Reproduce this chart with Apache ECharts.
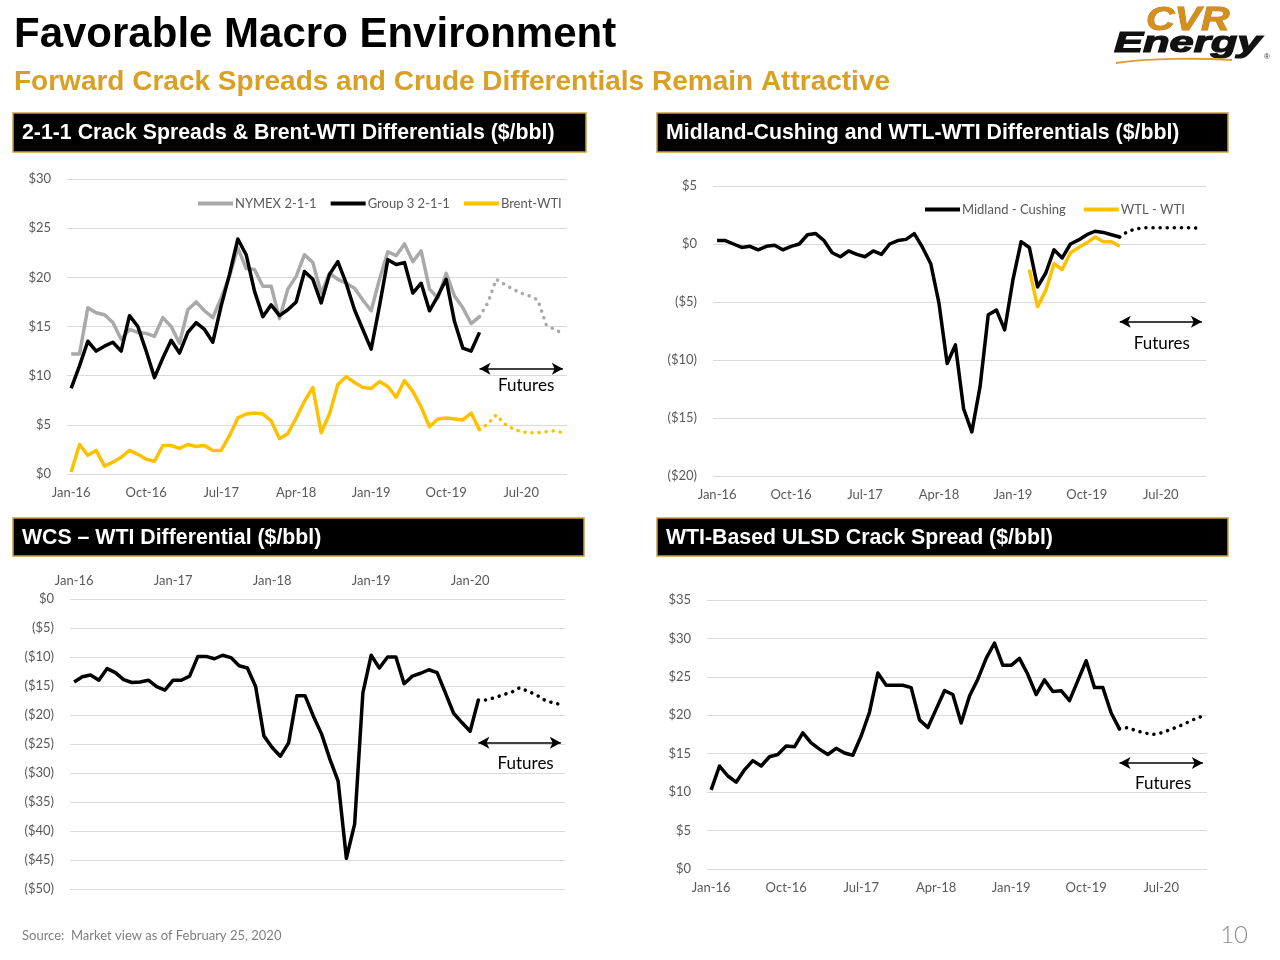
<!DOCTYPE html>
<html>
<head>
<meta charset="utf-8">
<script src="https://cdn.jsdelivr.net/npm/echarts/dist/echarts.min.js"></script>
<style>
html,body{margin:0;padding:0;background:#fff;}
#c{width:1280px;height:960px;}
</style>
</head>
<body>
<div id="c"></div>
<script>
// ---------- categories ----------
const months = [
'Jan-16','Feb-16','Mar-16','Apr-16','May-16','Jun-16','Jul-16','Aug-16','Sep-16','Oct-16','Nov-16','Dec-16',
'Jan-17','Feb-17','Mar-17','Apr-17','May-17','Jun-17','Jul-17','Aug-17','Sep-17','Oct-17','Nov-17','Dec-17',
'Jan-18','Feb-18','Mar-18','Apr-18','May-18','Jun-18','Jul-18','Aug-18','Sep-18','Oct-18','Nov-18','Dec-18',
'Jan-19','Feb-19','Mar-19','Apr-19','May-19','Jun-19','Jul-19','Aug-19','Sep-19','Oct-19','Nov-19','Dec-19',
'Jan-20','Feb-20','Mar-20','Apr-20','May-20','Jun-20','Jul-20','Aug-20','Sep-20','Oct-20','Nov-20','Dec-20'];

// ---------- chart 1: 2-1-1 crack spreads & Brent-WTI (Jan-16 .. Feb-20 actual, Feb-20 .. Dec-20 futures) ----------
const nymexHist = [12.2,12.2,16.9,16.4,16.2,15.4,13.7,14.7,14.4,14.3,14.0,15.9,15.0,13.3,16.7,17.5,16.6,15.9,17.9,20.1,
  23.0,20.9,20.8,19.1,19.1,15.8,18.8,20.1,22.3,21.5,18.4,20.4,19.8,19.4,18.9,17.7,16.6,19.8,22.6,22.2,
  23.4,21.6,22.7,18.8,17.9,20.4,18.1,16.9,15.3,16.0];
const nymexFut = [16.0,17.4,19.8,19.3,18.8,18.4,18.1,17.7,15.2,14.7,14.3];
const group3Hist = [8.7,11.0,13.5,12.5,13.0,13.4,12.5,16.1,15.0,12.5,9.8,11.8,13.6,12.3,14.4,15.4,14.7,13.4,17.1,20.3,
  23.9,22.3,18.6,16.0,17.2,16.1,16.7,17.5,20.6,19.8,17.4,20.3,21.6,19.4,16.7,14.7,12.7,17.1,21.8,21.3,
  21.5,18.4,19.4,16.6,18.1,19.8,15.5,12.8,12.5,14.4];
const brentHist = [0.2,3.0,1.9,2.4,0.8,1.2,1.7,2.4,2.0,1.5,1.3,2.9,2.9,2.6,3.0,2.8,2.9,2.4,2.4,3.9,
  5.7,6.1,6.2,6.1,5.4,3.6,4.1,5.7,7.4,8.8,4.2,6.1,9.1,9.9,9.3,8.8,8.7,9.4,8.9,7.8,
  9.5,8.4,6.8,4.8,5.6,5.7,5.6,5.5,6.2,4.5];
const brentFut = [4.5,5.1,6.0,5.1,4.6,4.3,4.2,4.2,4.3,4.4,4.2];

// ---------- chart 2: Midland-Cushing and WTL-WTI ----------
const midlandHist = [0.3,0.3,0.0,-0.3,-0.2,-0.5,-0.2,-0.1,-0.5,-0.2,0.0,0.8,0.9,0.3,-0.75,-1.1,-0.6,-0.9,-1.1,-0.6,
  -0.9,0.0,0.3,0.4,0.9,-0.3,-1.7,-5.1,-10.3,-8.7,-14.2,-16.2,-12.3,-6.1,-5.7,-7.4,-3.1,0.2,-0.3,-3.7,
  -2.5,-0.5,-1.2,0.0,0.35,0.8,1.1,1.0,0.8,0.6];
const midlandFut = [0.6,1.1,1.3,1.4,1.4,1.4,1.4,1.4,1.4,1.4,1.3];
const wtlStart = 38; // first month with WTL-WTI data (Mar-19)
const wtlHist = [-2.2,-5.4,-4.0,-1.7,-2.2,-0.75,-0.3,0.1,0.6,0.2,0.2,-0.2];

// ---------- chart 3: WCS - WTI ----------
const wcsHist = [-14.3,-13.4,-13.1,-14.0,-12.0,-12.7,-13.9,-14.4,-14.3,-14.0,-15.1,-15.7,-14.0,-14.0,-13.3,-9.9,-9.9,-10.3,-9.7,-10.1,
  -11.5,-11.9,-15.1,-23.6,-25.6,-27.1,-24.8,-16.7,-16.7,-20.2,-23.3,-27.6,-31.4,-44.7,-38.8,-16.2,-9.7,-11.9,-10.0,-10.0,
  -14.6,-13.3,-12.8,-12.2,-12.7,-16.2,-19.7,-21.3,-22.8,-17.4];
const wcsFut = [-17.4,-17.4,-17.0,-16.5,-16.1,-15.3,-15.9,-16.5,-17.4,-17.9,-18.2];

// ---------- chart 4: WTI-based ULSD crack ----------
const ulsdHist = [10.3,13.4,12.1,11.3,12.9,14.1,13.4,14.6,14.9,16.0,15.9,17.7,16.4,15.6,14.9,15.7,15.1,14.8,17.3,20.4,
  25.5,23.9,23.9,23.9,23.6,19.4,18.4,20.8,23.2,22.7,19.0,22.5,24.7,27.4,29.4,26.5,26.5,27.4,25.3,22.7,
  24.6,23.1,23.2,21.9,24.5,27.1,23.6,23.6,20.3,18.2];
const ulsdFut = [18.2,18.4,18.0,17.7,17.5,17.7,18.1,18.5,19.0,19.5,19.9];

const futStart = 49; // Feb-20

// ---------- helpers ----------
const HF = '"Liberation Sans", Arial, Helvetica, sans-serif';
const BF = 'Lato, "Open Sans", sans-serif';
const GOLD = '#FFC000', GRAY = '#A9A9A9', BLACK = '#000000';

function placeAt(arr, start) {
  const out = new Array(months.length).fill(null);
  arr.forEach((v, i) => { out[start + i] = v; });
  return out;
}
function fmt(v) { return v < 0 ? '($' + (-v) + ')' : '$' + v; }

function xAx(gi, interval, pos) {
  return {type:'category', gridIndex:gi, data:months, boundaryGap:true, position:pos || 'bottom',
    axisLine:{show:false}, axisTick:{show:false}, splitLine:{show:false},
    axisLabel:{interval:interval, color:'#595959', fontSize:13, fontFamily:BF, margin:12}};
}
function yAx(gi, min, max) {
  return {type:'value', gridIndex:gi, min:min, max:max, interval:5,
    axisLine:{show:false}, axisTick:{show:false},
    splitLine:{lineStyle:{color:'#D9D9D9', width:1}},
    axisLabel:{formatter:fmt, color:'#595959', fontSize:13, fontFamily:BF, margin:16}};
}
function line(name, data, color, gi, dotted, z) {
  return {name:name, type:'line', xAxisIndex:gi, yAxisIndex:gi, data:data, symbol:'none', smooth:false,
    connectNulls:false, z:z || 2, silent:true,
    itemStyle:{color:color},
    lineStyle:dotted ? {color:color, width:3.5, type:[0.1, 7], cap:'round'} : {color:color, width:3.5, join:'round'}};
}
function futMark(y, dist, padLeft) {
  return {silent:true, symbol:['arrow','arrow'], symbolSize:[9, 11], precision:2,
    lineStyle:{color:'#000', width:1.5, type:'solid'},
    emphasis:{disabled:true},
    label:{show:true, formatter:'Futures', position:'insideMiddleBottom', color:'#000', fontSize:17, fontFamily:BF,
      distance:dist, padding:[0, 0, 0, padLeft]},
    data:[[{coord:['Feb-20', y]}, {coord:['Dec-20', y]}]]};
}

const series = [];
// chart 1
series.push(line('NYMEX 2-1-1', placeAt(nymexHist, 0), GRAY, 0, false, 2));
series.push(line('NYMEX fut', placeAt(nymexFut, futStart), GRAY, 0, true, 2));
series.push(line('Group 3 2-1-1', placeAt(group3Hist, 0), BLACK, 0, false, 3));
series.push(line('Brent-WTI', placeAt(brentHist, 0), GOLD, 0, false, 3));
const s1f = line('Brent fut', placeAt(brentFut, futStart), GOLD, 0, true, 3);
s1f.markLine = futMark(10.7, 8, 10);
series.push(s1f);
// chart 2
series.push(line('Midland - Cushing', placeAt(midlandHist, 0), BLACK, 1, false, 3));
const s2f = line('Midland fut', placeAt(midlandFut, futStart), BLACK, 1, true, 3);
s2f.markLine = futMark(-6.7, 13, 2);
series.push(s2f);
series.push(line('WTL - WTI', placeAt(wtlHist, wtlStart), GOLD, 1, false, 4));
// chart 3
series.push(line('WCS - WTI', placeAt(wcsHist, 0), BLACK, 2, false, 3));
const s3f = line('WCS fut', placeAt(wcsFut, futStart), BLACK, 2, true, 3);
s3f.markLine = futMark(-24.8, 12, 12);
series.push(s3f);
// chart 4
series.push(line('ULSD', placeAt(ulsdHist, 0), BLACK, 3, false, 3));
const s4f = line('ULSD fut', placeAt(ulsdFut, futStart), BLACK, 3, true, 3);
s4f.markLine = futMark(13.8, 12, 4);
series.push(s4f);

function headBox(x, y, w, h, text) {
  return {type:'group', children:[
    {type:'rect', shape:{x:x, y:y, width:w, height:h}, style:{fill:'#000', stroke:'#C9A03A', lineWidth:1.5}},
    {type:'text', x:x + 9, y:y + h / 2 + 1, style:{text:text, fill:'#fff', fontSize:21.3, fontWeight:'bold', fontFamily:HF,
      textAlign:'left', textVerticalAlign:'middle'}}
  ]};
}

const option = {
  animation:false,
  backgroundColor:'#fff',
  grid:[
    {left:67, top:179, width:500, height:295},
    {left:713, top:186, width:493, height:290},
    {left:70, top:599, width:495, height:290},
    {left:707, top:600, width:500, height:269}
  ],
  xAxis:[xAx(0, 8), xAx(1, 8), xAx(2, 11, 'top'), xAx(3, 8)],
  yAxis:[yAx(0, 0, 30), yAx(1, -20, 5), yAx(2, -50, 0), yAx(3, 0, 35)],
  legend:[
    {data:['NYMEX 2-1-1','Group 3 2-1-1','Brent-WTI'], left:193, top:192, icon:'rect', itemWidth:35, itemHeight:4,
      itemGap:14, selectedMode:false, textStyle:{fontSize:13, color:'#595959', fontFamily:BF, padding:[0,0,0,-3]}},
    {data:['Midland - Cushing','WTL - WTI'], left:920, top:198, icon:'rect', itemWidth:35, itemHeight:4,
      itemGap:18, selectedMode:false, textStyle:{fontSize:13, color:'#595959', fontFamily:BF, padding:[0,0,0,-3]}}
  ],
  graphic:[
    {type:'text', x:14, y:35, style:{text:'Favorable Macro Environment', fill:'#000', fontSize:42, fontWeight:'bold',
      fontFamily:HF, textAlign:'left', textVerticalAlign:'middle'}},
    {type:'text', x:14, y:82, style:{text:'Forward Crack Spreads and Crude Differentials Remain Attractive', fill:'#D8A024',
      fontSize:28, fontWeight:'bold', fontFamily:HF, textAlign:'left', textVerticalAlign:'middle'}},
    headBox(13, 113, 573, 39, '2-1-1 Crack Spreads & Brent-WTI Differentials ($/bbl)'),
    headBox(657, 113, 571, 39, 'Midland-Cushing and WTL-WTI Differentials ($/bbl)'),
    headBox(13, 518, 571, 38, 'WCS \u2013 WTI Differential ($/bbl)'),
    headBox(657, 518, 571, 38, 'WTI-Based ULSD Crack Spread ($/bbl)'),
    // logo
    {type:'text', x:1146, y:21, scaleX:1.2, style:{text:'CVR', fontSize:33, fontWeight:'bold', fontStyle:'italic', fontFamily:HF,
      textAlign:'left', textVerticalAlign:'middle', fill:'#D4901C', stroke:'#B8741A', lineWidth:0.8}},
    {type:'text', x:1114, y:44, scaleX:1.5, style:{text:'Energy', fontSize:29, fontWeight:'bold', fontStyle:'italic', fontFamily:HF,
      textAlign:'left', textVerticalAlign:'middle', fill:'#111', stroke:'#111', lineWidth:1.2}},
    {type:'bezierCurve', shape:{x1:1116, y1:63, x2:1232, y2:60, cpx1:1150, cpy1:58, cpx2:1200, cpy2:58},
      style:{stroke:'#D9A030', lineWidth:2, fill:null}},
    {type:'text', x:1264, y:57, style:{text:'\u00AE', fontSize:8, fill:'#333', fontFamily:HF, textAlign:'left', textVerticalAlign:'middle'}},
    // footer
    {type:'text', x:22, y:936, style:{text:'Source:  Market view as of February 25, 2020', fill:'#7F7F7F', fontSize:13,
      fontFamily:BF, textAlign:'left', textVerticalAlign:'middle'}},
    {type:'text', x:1248, y:935, style:{text:'10', fill:'#8C8C8C', fontSize:24, fontWeight:300, fontFamily:BF,
      textAlign:'right', textVerticalAlign:'middle'}}
  ],
  series:series
};

const chart = echarts.init(document.getElementById('c'), null, {renderer:'canvas'});
chart.setOption(option);
</script>
</body>
</html>
